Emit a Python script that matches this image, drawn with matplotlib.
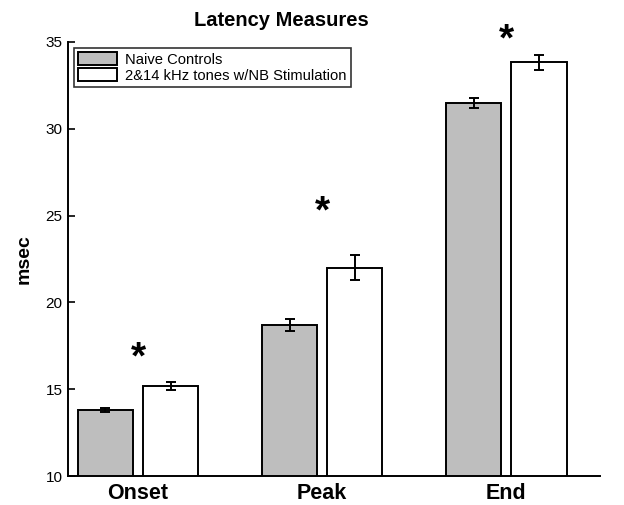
import matplotlib
matplotlib.use('Agg')
import matplotlib.pyplot as plt
import numpy as np

plt.rcParams['font.family'] = ['Liberation Sans', 'DejaVu Sans']

groups = ['Onset', 'Peak', 'End']
naive = [13.8, 18.7, 31.5]
naive_err = [0.1, 0.35, 0.28]
tones = [15.18, 22.0, 33.82]
tones_err = [0.24, 0.72, 0.44]
star_y = [16.75, 25.2, 35.1]

x = np.arange(1, len(groups) + 1)
w = 0.3
off = 0.177

fig = plt.figure(figsize=(6.24, 5.05), dpi=100)
ax = fig.add_axes([0.109, 0.0574, 0.853, 0.8596])

ax.bar(x - off, naive, w, bottom=0, color='#bebebe', edgecolor='black', linewidth=1.4,
       label='Naive Controls', zorder=2)
ax.bar(x + off, tones, w, bottom=0, color='white', edgecolor='black', linewidth=1.4,
       label='2&14 kHz tones w/NB Stimulation', zorder=2)
ax.errorbar(x - off, naive, yerr=naive_err, fmt='none', ecolor='black', elinewidth=1.4,
            capsize=3.5, capthick=1.4, zorder=3)
ax.errorbar(x + off, tones, yerr=tones_err, fmt='none', ecolor='black', elinewidth=1.4,
            capsize=3.5, capthick=1.4, zorder=3)

# significance stars
for xi, yi in zip(x, star_y):
    ax.text(xi, yi, '*', ha='center', va='center', fontsize=28, fontweight='bold',
            clip_on=False)

ax.set_xlim(0.62, 3.51)
ax.set_ylim(10, 35)
ax.set_yticks([10, 15, 20, 25, 30, 35])
ax.set_xticks(x)
ax.set_xticklabels(groups, fontsize=15.5, fontweight='bold')
ax.tick_params(axis='x', length=0, pad=5)
ax.tick_params(axis='y', direction='in', length=5, width=1.2, labelsize=11, pad=4)
for s in ['top', 'right']:
    ax.spines[s].set_visible(False)
for s in ['left', 'bottom']:
    ax.spines[s].set_linewidth(1.4)

ax.set_ylabel('msec', fontsize=14, fontweight='bold', labelpad=9)
fig.text(281 / 624, 1 - 21 / 505, 'Latency Measures', ha='center', va='center',
         fontsize=14.5, fontweight='bold')

leg = ax.legend(loc='upper left', fontsize=10.6, frameon=True, fancybox=False,
                edgecolor='black', borderaxespad=0.4, handlelength=2.6,
                handleheight=1.0, labelspacing=0.1, borderpad=0.3, handletextpad=0.6)
leg.get_frame().set_linewidth(1.2)

plt.savefig('out.png', dpi=100)
plt.close()
